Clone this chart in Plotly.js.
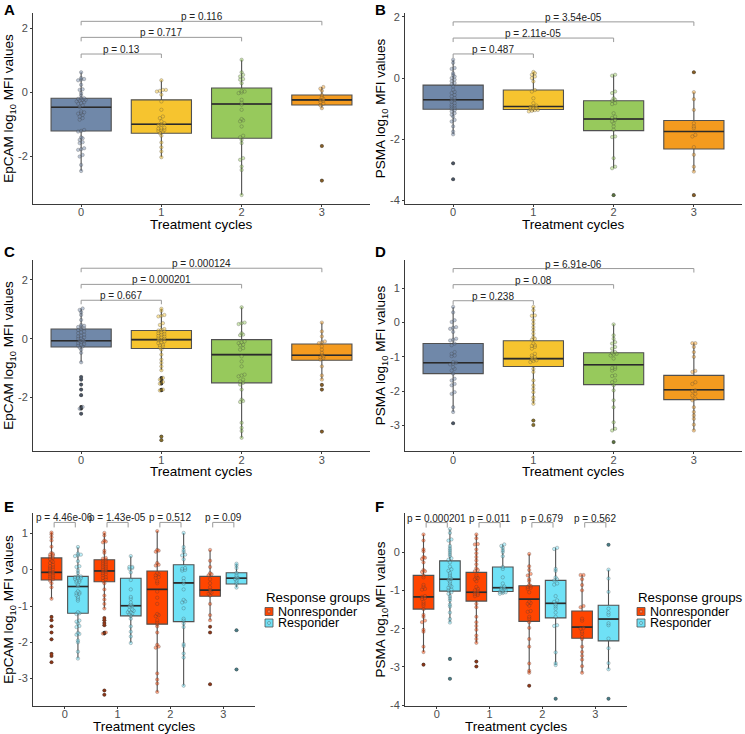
<!DOCTYPE html>
<html>
<head>
<meta charset="utf-8">
<script src="https://cdn.plot.ly/plotly-3.0.1.min.js"></script>
<style>html,body{margin:0;padding:0;background:#fff;}#chart{width:745px;height:734px;}</style>
</head>
<body>
<div id="chart"></div>
<script>
// ---------------- DATA ----------------
const cycles = [0, 1, 2, 3];
const cycleLabels = ['0', '1', '2', '3'];

// EpCAM, responders (panel A and responder boxes of E)
const epcamR_pts = [
  [0.63, 0.45, 0.42, 0.40, 0.38, 0.24, 0.1, 0.08, -0.02, -0.09, -0.18, -0.18, -0.2, -0.23, -0.23, -0.25, -0.28, -0.3, -0.33, -0.35, -0.4, -0.45, -0.59, -0.62, -0.64, -0.66, -0.70, -0.75, -0.80, -0.85, -1.17, -1.2, -1.22, -1.4, -1.43, -1.48, -1.55, -1.58, -1.74, -1.77, -1.79, -1.95, -2.0, -2.26, -2.45],
  [0.38, 0.08, 0.08, 0.05, 0.03, -0.07, -0.28, -0.54, -0.75, -0.8, -0.9, -0.96, -1.0, -1.01, -1.1, -1.11, -1.13, -1.17, -1.17, -1.2, -1.22, -1.27, -1.35, -1.56, -1.71, -1.84, -2.02],
  [1.02, 0.63, 0.55, 0.5, 0.42, 0.40, 0.29, 0.05, 0.03, 0.0, -0.02, -0.23, -0.31, -0.38, -0.54, -0.83, -0.87, -0.9, -1.06, -1.35, -1.4, -1.48, -1.58, -2.05, -2.1, -2.31, -2.42, -3.2],
  [0.17, 0.12, 0.05, -0.08, -0.15, -0.2, -0.23, -0.25, -0.3, -0.35, -0.4, -0.49, -1.67, -2.75]
];
const epcamR_q1  = [-1.2, -1.27, -1.43, -0.39];
const epcamR_med = [-0.46, -0.99, -0.36, -0.23];
const epcamR_q3  = [-0.18, -0.23, 0.14, -0.08];
const epcamR_lo  = [-2.45, -2.02, -3.2, -0.49];
const epcamR_hi  = [0.63, 0.38, 1.02, 0.17];

// EpCAM, nonresponders (panel C and nonresponder boxes of E)
const epcamNR_pts = [
  [1.03, 0.98, 0.9, 0.81, 0.64, 0.47, 0.44, 0.42, 0.4, 0.36, 0.33, 0.3, 0.25, 0.22, 0.19, 0.14, 0.1, 0.08, 0.05, 0.02, 0.0, -0.05, -0.07, -0.09, -0.12, -0.15, -0.18, -0.2, -0.23, -0.26, -0.3, -0.37, -0.48, -0.8, -1.30, -1.39, -1.56, -1.73, -1.92, -2.32, -2.38, -2.55],
  [1.02, 0.95, 0.81, 0.78, 0.76, 0.53, 0.47, 0.33, 0.31, 0.28, 0.25, 0.22, 0.19, 0.16, 0.14, 0.1, 0.08, 0.05, 0.02, 0.0, -0.03, -0.05, -0.09, -0.12, -0.15, -0.2, -0.22, -0.26, -0.3, -0.37, -0.54, -0.71, -0.82, -0.94, -1.07, -1.33, -1.39, -1.47, -1.53, -1.73, -1.76, -3.33, -3.45],
  [1.07, 0.55, 0.53, 0.5, 0.19, 0.14, 0.12, -0.09, -0.12, -0.15, -0.2, -0.22, -0.32, -0.37, -0.6, -0.77, -0.94, -1.22, -1.25, -1.28, -1.39, -1.45, -1.5, -1.56, -1.73, -2.07, -2.12, -2.15, -2.86, -3.03, -3.14, -3.37],
  [0.55, 0.25, 0.08, -0.09, -0.12, -0.15, -0.26, -0.37, -0.48, -0.55, -0.6, -0.63, -0.66, -0.71, -0.94, -1.25, -1.39, -1.57, -1.73, -3.16]
];
const epcamNR_q1  = [-0.28, -0.33, -1.50, -0.73];
const epcamNR_med = [-0.07, -0.03, -0.54, -0.56];
const epcamNR_q3  = [0.33, 0.28, -0.03, -0.18];
const epcamNR_lo  = [-0.8, -1.07, -3.37, -1.39];
const epcamNR_hi  = [1.03, 1.02, 1.07, 0.55];

// PSMA, responders (panel B and responder boxes of F)
const psmaR_pts = [
  [0.6, 0.5, 0.33, 0.3, 0.16, 0.1, 0.05, 0.0, -0.05, -0.1, -0.16, -0.2, -0.27, -0.38, -0.45, -0.49, -0.55, -0.6, -0.65, -0.7, -0.72, -0.77, -0.82, -0.87, -0.9, -0.93, -0.98, -1.0, -1.05, -1.09, -1.15, -1.2, -1.26, -1.37, -1.42, -1.58, -1.75, -1.84, -2.79, -3.31],
  [0.2, 0.16, 0.11, 0.05, 0.0, -0.11, -0.39, -0.44, -0.66, -0.82, -0.9, -0.93, -0.95, -0.98, -1.0, -1.02, -1.04, -1.05, -1.07, -1.09],
  [0.11, 0.08, -0.44, -0.49, -0.66, -0.71, -0.74, -0.82, -0.85, -1.15, -1.26, -1.3, -1.37, -1.42, -1.48, -1.58, -1.69, -1.91, -1.93, -2.62, -2.9, -2.95, -3.83],
  [0.19, -0.46, -0.69, -1.04, -1.48, -1.58, -1.64, -1.86, -1.91, -2.26, -2.51, -2.9, -3.06, -3.83]
];
const psmaR_q1  = [-1.02, -1.03, -1.72, -2.32];
const psmaR_med = [-0.71, -0.93, -1.34, -1.75];
const psmaR_q3  = [-0.23, -0.39, -0.74, -1.39];
const psmaR_lo  = [-1.84, -1.09, -2.95, -3.06];
const psmaR_hi  = [0.6, 0.2, 0.11, -0.46];

// PSMA, nonresponders (panel D and nonresponder boxes of F)
const psmaNR_pts = [
  [0.46, 0.3, 0.07, 0.02, -0.13, -0.15, -0.18, -0.27, -0.47, -0.5, -0.52, -0.61, -0.66, -0.86, -0.91, -0.96, -0.98, -1.15, -1.17, -1.2, -1.22, -1.3, -1.35, -1.4, -1.49, -1.64, -1.69, -1.79, -1.83, -2.03, -2.08, -2.47, -2.61, -2.94],
  [0.46, 0.36, 0.21, 0.2, 0.07, -0.03, -0.13, -0.22, -0.32, -0.42, -0.47, -0.5, -0.61, -0.66, -0.68, -0.71, -0.76, -0.91, -0.96, -1.0, -1.02, -1.05, -1.08, -1.1, -1.12, -1.15, -1.35, -1.44, -1.69, -1.83, -1.93, -2.03, -2.18, -2.27, -2.37, -2.86, -2.99],
  [-0.05, -0.37, -0.47, -0.57, -0.61, -0.71, -0.76, -0.86, -0.88, -0.91, -0.93, -0.96, -1.05, -1.3, -1.33, -1.35, -1.4, -1.54, -1.56, -1.69, -1.74, -1.83, -1.98, -2.27, -2.47, -2.91, -3.1, -3.15, -3.49],
  [-0.6, -0.6, -0.71, -0.86, -1.0, -1.41, -1.44, -1.74, -1.79, -1.98, -2.0, -2.08, -2.13, -2.22, -2.27, -2.47, -2.61, -2.71, -2.81, -2.98, -3.15]
];
const psmaNR_q1  = [-1.49, -1.28, -1.81, -2.25];
const psmaNR_med = [-1.17, -1.05, -1.23, -1.96];
const psmaNR_q3  = [-0.61, -0.53, -0.88, -1.54];
const psmaNR_lo  = [-2.61, -2.37, -3.15, -3.15];
const psmaNR_hi  = [0.46, 0.46, -0.05, -0.6];

// p-values
const pA = ['p = 0.13', 'p = 0.717', 'p = 0.116'];
const pB = ['p = 0.487', 'p = 2.11e-05', 'p = 3.54e-05'];
const pC = ['p = 0.667', 'p = 0.000201', 'p = 0.000124'];
const pD = ['p = 0.238', 'p = 0.08', 'p = 6.91e-06'];
const pE = ['p = 4.46e-06', 'p = 1.43e-05', 'p = 0.512', 'p = 0.09'];
const pF = ['p = 0.000201', 'p = 0.011', 'p = 0.679', 'p = 0.562'];
const compareTo = [1, 2, 3];
const groupNames = ['Nonresponder', 'Responder'];
const legendTitle = 'Response groups';
const xTitle = 'Treatment cycles';

// ---------------- STYLE ----------------
const cycleColors = ['#7088a9', '#f6c42f', '#97c95c', '#f49b1f'];
const nrColor = '#ff4500', rColor = '#6fe1f6';
const FONT = 'Liberation Sans, Arial, Helvetica, sans-serif';
const TITLE_SIZE = 13.5;
const W = 745, H = 734;

function rgba(hex, a) {
  const n = parseInt(hex.slice(1), 16);
  return `rgba(${(n >> 16) & 255},${(n >> 8) & 255},${n & 255},${a})`;
}

// dotplot-like centred stacking of near-equal values
function dodge(vals, center, binH, stepX) {
  const s = vals.slice().sort((a, b) => a - b);
  const xs = [], ys = [];
  let i = 0;
  while (i < s.length) {
    let j = i;
    while (j < s.length && s[j] - s[i] < binH) j++;
    const n = j - i;
    for (let k = 0; k < n; k++) {
      xs.push(center + (k - (n - 1) / 2) * stepX);
      ys.push(s[i + k]);
    }
    i = j;
  }
  return { xs, ys };
}

const traces = [];
const shapes = [];
const annotations = [];

function addBox(ax, xs, q1, med, q3, lo, hi, color, width) {
  traces.push({
    type: 'box', xaxis: 'x' + ax, yaxis: 'y' + ax,
    x: xs, q1: q1, median: med, q3: q3, lowerfence: lo, upperfence: hi,
    width: width, whiskerwidth: 0, boxpoints: false,
    fillcolor: color, line: { color: '#505050', width: 1.1 },
    showlegend: false, hoverinfo: 'skip'
  });
  // darker median bar drawn over the box, same data positions
  traces.push({
    type: 'scatter', mode: 'lines', xaxis: 'x' + ax, yaxis: 'y' + ax,
    x: xs.flatMap(x => [x - width / 2, x + width / 2, null]),
    y: med.flatMap(m => [m, m, null]),
    line: { color: '#2a2a2a', width: 1.6 }, showlegend: false, hoverinfo: 'skip'
  });
}

function addPoints(ax, center, vals, lo, hi, color, binH, stepX) {
  const out = vals.filter(v => v < lo - 1e-6 || v > hi + 1e-6);
  if (out.length) {
    traces.push({
      type: 'scatter', mode: 'markers', xaxis: 'x' + ax, yaxis: 'y' + ax,
      x: out.map(() => center), y: out,
      marker: { size: 3.6, color: '#2b2b2b' }, showlegend: false, hoverinfo: 'skip'
    });
  }
  const d = dodge(vals, center, binH, stepX);
  traces.push({
    type: 'scatter', mode: 'markers', xaxis: 'x' + ax, yaxis: 'y' + ax,
    x: d.xs, y: d.ys,
    marker: { size: 3.4, color: rgba(color, 0.45), line: { color: 'rgba(60,60,60,0.45)', width: 0.6 } },
    showlegend: false, hoverinfo: 'skip'
  });
}

function bracketText(ax, x, y, txt) {
  annotations.push({
    xref: 'x' + ax, yref: 'y' + ax, x: x, y: y,
    text: txt, showarrow: false, yanchor: 'bottom', yshift: -3,
    font: { family: FONT, size: 10, color: '#222' }
  });
}

// single-group panels A-D
function panelSingle(ax, pts, q1, med, q3, lo, hi, pxY, bracketY, pvals) {
  cycles.forEach((c, i) => {
    addBox(ax, [c], [q1[i]], [med[i]], [q3[i]], [lo[i]], [hi[i]], cycleColors[i], 0.75);
  });
  cycles.forEach((c, i) => {
    addPoints(ax, c, pts[i], lo[i], hi[i], cycleColors[i], 1.8 / pxY, 3.0 / 80.4);
  });
  const t = 4 / pxY;
  compareTo.forEach((g, k) => {
    const y = bracketY[k];
    shapes.push({
      type: 'path', xref: 'x' + ax, yref: 'y' + ax,
      path: `M ${cycles[0]},${y - t} L ${cycles[0]},${y} L ${cycles[g]},${y} L ${cycles[g]},${y - t}`,
      line: { color: '#9a9a9a', width: 1 }
    });
    bracketText(ax, (cycles[0] + cycles[g]) / 2, y, pvals[k]);
  });
}

// two-group panels E-F
function panelPair(ax, nrPts, nrS, rPts, rS, pxY, bracketY, pvals) {
  const off = 0.25, w = 0.39;
  addBox(ax, cycles.map(c => c - off), nrS[0], nrS[1], nrS[2], nrS[3], nrS[4], nrColor, w);
  addBox(ax, cycles.map(c => c + off), rS[0], rS[1], rS[2], rS[3], rS[4], rColor, w);
  cycles.forEach((c, i) => {
    addPoints(ax, c - off, nrPts[i], nrS[3][i], nrS[4][i], nrColor, 1.8 / pxY, 2.9 / 52.5);
    addPoints(ax, c + off, rPts[i], rS[3][i], rS[4][i], rColor, 1.8 / pxY, 2.9 / 52.5);
  });
  const t = 5 / pxY;
  cycles.forEach((c, i) => {
    const y = bracketY;
    shapes.push({
      type: 'path', xref: 'x' + ax, yref: 'y' + ax,
      path: `M ${c - 0.2},${y - t} L ${c - 0.2},${y} L ${c + 0.2},${y} L ${c + 0.2},${y - t}`,
      line: { color: '#9a9a9a', width: 1 }
    });
    bracketText(ax, c, y, pvals[i]);
  });
}

// legend block (title + two keyed entries) in pixel space
function legendBlock(left, top) {
  annotations.push({
    xref: 'paper', yref: 'paper', x: left / W, y: 1 - top / H, xanchor: 'left', yanchor: 'middle',
    text: legendTitle, showarrow: false, font: { family: FONT, size: 13.3, color: '#000' }
  });
  [nrColor, rColor].forEach((col, k) => {
    const cy = top + 14.5 + k * 11.5;
    shapes.push({
      type: 'rect', xref: 'paper', yref: 'paper',
      x0: (left + 1) / W, x1: (left + 9) / W, y0: 1 - (cy - 4) / H, y1: 1 - (cy + 4) / H,
      fillcolor: col, line: { color: '#505050', width: 0.8 }
    });
    shapes.push({
      type: 'circle', xref: 'paper', yref: 'paper',
      x0: (left + 3.5) / W, x1: (left + 6.5) / W, y0: 1 - (cy - 1.5) / H, y1: 1 - (cy + 1.5) / H,
      fillcolor: 'rgba(255,255,255,0.3)', line: { color: 'rgba(60,60,60,0.6)', width: 0.6 }
    });
    annotations.push({
      xref: 'paper', yref: 'paper', x: (left + 12) / W, y: 1 - cy / H, xanchor: 'left', yanchor: 'middle',
      text: groupNames[k], showarrow: false, font: { family: FONT, size: 12.5, color: '#000' }
    });
  });
}

panelSingle('', epcamR_pts, epcamR_q1, epcamR_med, epcamR_q3, epcamR_lo, epcamR_hi, 32, [1.2, 1.72, 2.22], pA);
panelSingle('2', psmaR_pts, psmaR_q1, psmaR_med, psmaR_q3, psmaR_lo, psmaR_hi, 30.5, [0.79, 1.31, 1.84], pB);
panelSingle('3', epcamNR_pts, epcamNR_q1, epcamNR_med, epcamNR_q3, epcamNR_lo, epcamNR_hi, 29.3, [1.31, 1.85, 2.4], pC);
panelSingle('4', psmaNR_pts, psmaNR_q1, psmaNR_med, psmaNR_q3, psmaNR_lo, psmaNR_hi, 34.2, [0.64, 1.11, 1.58], pD);
panelPair('5', epcamNR_pts, [epcamNR_q1, epcamNR_med, epcamNR_q3, epcamNR_lo, epcamNR_hi],
  epcamR_pts, [epcamR_q1, epcamR_med, epcamR_q3, epcamR_lo, epcamR_hi], 36.1, 1.31, pE);
panelPair('6', psmaNR_pts, [psmaNR_q1, psmaNR_med, psmaNR_q3, psmaNR_lo, psmaNR_hi],
  psmaR_pts, [psmaR_q1, psmaR_med, psmaR_q3, psmaR_lo, psmaR_hi], 38.2, 0.77, pF);
legendBlock(264, 597);
legendBlock(636, 597);

// x-axis titles placed just under the tick labels (ggplot spacing)
[[33, 370, 225], [405, 742, 225], [33, 370, 471], [405, 742, 471], [33, 255, 726], [405, 627, 726]]
  .forEach(([l, r, y]) => annotations.push({
    xref: 'paper', yref: 'paper', x: (l + r) / 2 / W, y: 1 - y / H, xanchor: 'center', yanchor: 'middle',
    text: xTitle, showarrow: false, font: { family: FONT, size: TITLE_SIZE, color: '#000' }
  }));

// panel letters
[['A', 2, 10], ['B', 373, 10], ['C', 2, 251], ['D', 373, 251], ['E', 2, 506], ['F', 373, 506]]
  .forEach(([t, x, y]) => annotations.push({
    xref: 'paper', yref: 'paper', x: x / W, y: 1 - y / H, xanchor: 'left', yanchor: 'middle',
    text: '<b>' + t + '</b>', showarrow: false, font: { family: FONT, size: 15, color: '#000' }
  }));

// ---------------- LAYOUT ----------------
function xAxis(left, right, anchor, lift) {
  return {
    domain: [left / W, right / W], anchor: anchor, range: [-0.6, 3.6],
    tickvals: cycles, ticktext: cycleLabels, showgrid: false, zeroline: false,
    showline: true, linecolor: '#3a3a3a', linewidth: 1,
    ticks: 'outside', ticklen: 2, tickcolor: '#3a3a3a', ticklabelstandoff: lift,
    tickfont: { family: FONT, size: 11, color: '#4d4d4d' },
    fixedrange: true
  };
}
function yAxis(top, bottom, range, tickvals, anchor, titleText) {
  return {
    domain: [1 - bottom / H, 1 - top / H], anchor: anchor, range: range,
    tickvals: tickvals, ticktext: tickvals.map(String), showgrid: false, zeroline: false,
    showline: true, linecolor: '#3a3a3a', linewidth: 1,
    ticks: 'outside', ticklen: 2, tickcolor: '#3a3a3a',
    tickfont: { family: FONT, size: 11, color: '#4d4d4d' },
    title: { text: titleText, font: { family: FONT, size: TITLE_SIZE, color: '#000' }, standoff: 0 },
    fixedrange: true
  };
}
const epTitle = 'EpCAM log<sub>10</sub> MFI values';
const psTitle = 'PSMA log<sub>10</sub> MFI values';

const layout = {
  width: W, height: H, margin: { l: 0, r: 0, t: 0, b: 0 },
  paper_bgcolor: '#fff', plot_bgcolor: '#fff',
  font: { family: FONT }, showlegend: false,
  xaxis: xAxis(33, 370, 'y', -4),
  yaxis: yAxis(13, 204, [-3.48, 2.48], [-2, 0, 2], 'x', epTitle),
  xaxis2: xAxis(405, 742, 'y2', -4),
  yaxis2: yAxis(13, 204, [-4.12, 2.13], [-4, -2, 0, 2], 'x2', psTitle),
  xaxis3: xAxis(33, 370, 'y3', -3),
  yaxis3: yAxis(260, 451, [-3.82, 2.68], [-2, 0, 2], 'x3', epTitle),
  xaxis4: xAxis(405, 742, 'y4', -3),
  yaxis4: yAxis(260, 451, [-3.75, 1.83], [-3, -2, -1, 0, 1], 'x4', psTitle),
  xaxis5: xAxis(33, 255, 'y5', -4),
  yaxis5: yAxis(513, 706, [-3.76, 1.57], [-3, -2, -1, 0, 1], 'x5', epTitle),
  xaxis6: xAxis(405, 627, 'y6', -4),
  yaxis6: yAxis(513, 706, [-4.02, 1.02], [-4, -3, -2, -1, 0], 'x6', 'PSMA log<sub>10</sub>MFI values'),
  shapes: shapes,
  annotations: annotations
};

Plotly.newPlot('chart', traces, layout, { staticPlot: true, displayModeBar: false });
</script>
</body>
</html>
